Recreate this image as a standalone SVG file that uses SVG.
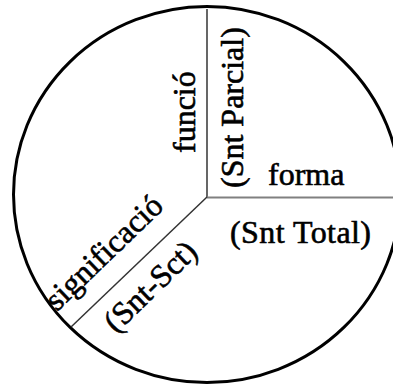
<svg xmlns="http://www.w3.org/2000/svg" width="393" height="385" viewBox="0 0 393 385">
  <style>
    .t { font-family: "Liberation Serif", "Times New Roman", serif; font-size: 32px; fill: #000; stroke: #000; stroke-width: 0.6px; }
  </style>
  <rect width="393" height="385" fill="#fff"/>
  <g id="circle">
    <ellipse cx="207" cy="194.5" rx="193.5" ry="188" fill="none" stroke="#000" stroke-width="3"/>
  </g>
  <g id="connectors">
    <line x1="207" y1="9" x2="207" y2="197" stroke="#000" stroke-width="1.2"/>
    <line x1="207" y1="197.5" x2="393" y2="197.5" stroke="#808080" stroke-width="2"/>
    <line x1="207" y1="197" x2="71" y2="327" stroke="#333" stroke-width="1.5"/>
  </g>
  <g id="funcio">
    <text class="t" transform="translate(195,153) rotate(-90)">funció</text>
  </g>
  <g id="snt-parcial">
    <text class="t" font-size="31" transform="translate(243,188) rotate(-90)">(Snt Parcial)</text>
  </g>
  <g id="forma">
    <text class="t" x="268" y="185">forma</text>
  </g>
  <g id="snt-total">
    <text class="t" font-size="33" x="230" y="243" textLength="141">(Snt Total)</text>
  </g>
  <g id="significacio">
    <text class="t" transform="translate(57,312) rotate(-44)" textLength="150">significació</text>
  </g>
  <g id="snt-sct">
    <text class="t" transform="translate(116,334) rotate(-44)">(Snt-Sct)</text>
  </g>
</svg>
